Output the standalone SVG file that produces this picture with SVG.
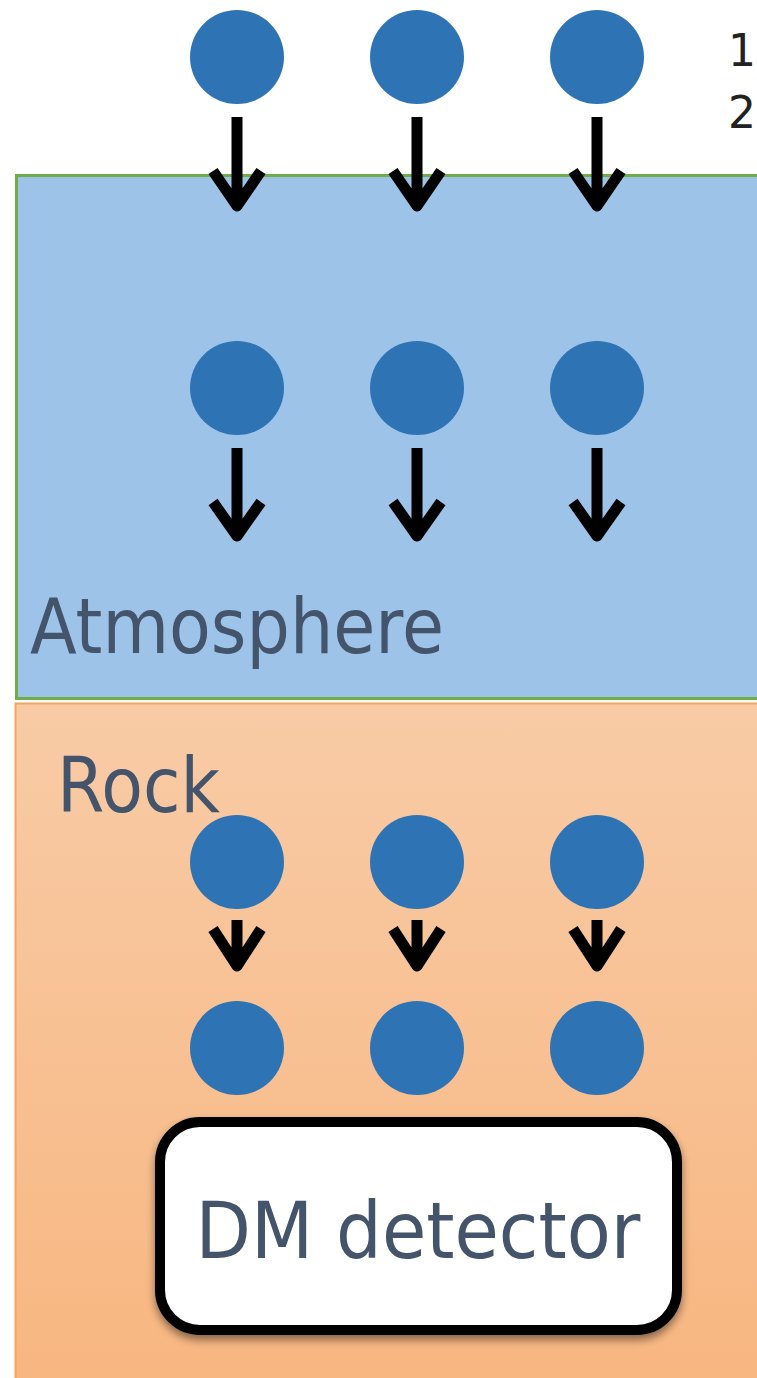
<svg xmlns="http://www.w3.org/2000/svg" width="757" height="1378" viewBox="0 0 757 1378">
<style>
.p{fill:#2E74B5}
.a{fill:none;stroke:#000;stroke-width:11;stroke-linecap:butt;stroke-linejoin:round}
.lbl{font-family:"DejaVu Sans","Liberation Sans",sans-serif;fill:#44546A}
.num{font-family:"DejaVu Sans","Liberation Sans",sans-serif;fill:#222;font-size:44px}
</style>
<defs>
<linearGradient id="rockg" x1="0" y1="0" x2="0" y2="1">
<stop offset="0" stop-color="#F8CBA6"/>
<stop offset="1" stop-color="#F8B680"/>
</linearGradient>
<filter id="sh" x="-10%" y="-10%" width="120%" height="130%">
<feDropShadow dx="0" dy="5" stdDeviation="4" flood-color="#000" flood-opacity="0.45"/>
</filter>
</defs>
<rect width="757" height="1378" fill="#fff"/>
<g id="atmosphere">
<rect x="16.5" y="175.5" width="750" height="523" fill="#9DC3E9" stroke="#70AD47" stroke-width="3"/>
<text class="lbl" x="30" y="653" font-size="76" textLength="414" lengthAdjust="spacingAndGlyphs">Atmosphere</text>
</g>
<g id="rock">
<rect x="15.5" y="703.5" width="750" height="690" fill="url(#rockg)" stroke="#F4A460" stroke-width="2"/>
<text class="lbl" x="57" y="812" font-size="76" textLength="163" lengthAdjust="spacingAndGlyphs">Rock</text>
</g>
<g id="labels">
<text class="num" x="728" y="66">1</text>
<text class="num" x="728" y="128">2</text>
</g>
<g id="particles">
<circle class="p" cx="237" cy="57" r="47"/><circle class="p" cx="417" cy="57" r="47"/><circle class="p" cx="597" cy="57" r="47"/>
<circle class="p" cx="237" cy="388" r="47"/><circle class="p" cx="417" cy="388" r="47"/><circle class="p" cx="597" cy="388" r="47"/>
<circle class="p" cx="237" cy="862" r="47"/><circle class="p" cx="417" cy="862" r="47"/><circle class="p" cx="597" cy="862" r="47"/>
<circle class="p" cx="237" cy="1048" r="47"/><circle class="p" cx="417" cy="1048" r="47"/><circle class="p" cx="597" cy="1048" r="47"/>
</g>
<g id="connectors">
<path class="a" d="M237 117V206M213 171L237 206L261 171"/>
<path class="a" d="M417 117V206M393 171L417 206L441 171"/>
<path class="a" d="M597 117V206M573 171L597 206L621 171"/>
<path class="a" d="M237 448V536M213 502L237 536L261 502"/>
<path class="a" d="M417 448V536M393 502L417 536L441 502"/>
<path class="a" d="M597 448V536M573 502L597 536L621 502"/>
<path class="a" d="M237 920V966M213 929L237 966L261 929"/>
<path class="a" d="M417 920V966M393 929L417 966L441 929"/>
<path class="a" d="M597 920V966M573 929L597 966L621 929"/>
</g>
<g id="detector">
<rect x="160" y="1122" width="517" height="208" rx="40" fill="#fff" stroke="#000" stroke-width="10" filter="url(#sh)"/>
<text class="lbl" x="418" y="1258" font-size="78" text-anchor="middle" textLength="445" lengthAdjust="spacingAndGlyphs">DM detector</text>
</g>
</svg>
